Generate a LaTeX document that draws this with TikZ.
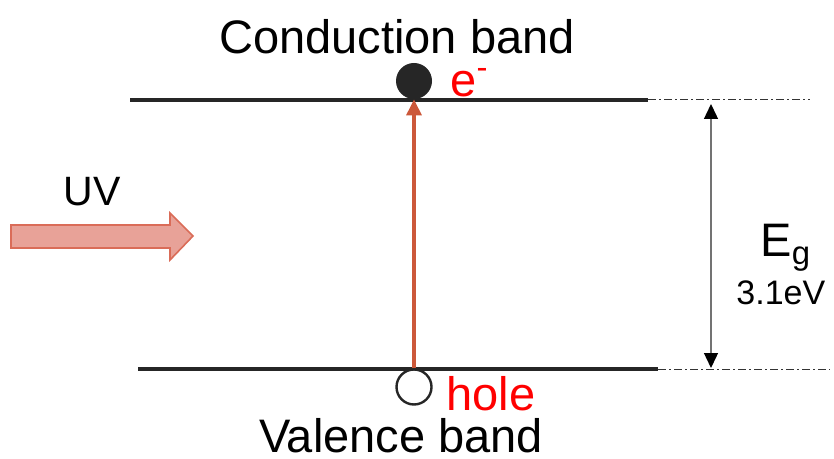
\documentclass[tikz,border=0pt]{standalone}
\usepackage{fontspec}
\setmainfont{Liberation Sans}
\usetikzlibrary{arrows.meta}
\definecolor{exred}{RGB}{204,88,58}
\definecolor{uvfill}{RGB}{232,162,152}
\definecolor{uvdraw}{RGB}{218,108,88}

\begin{document}
\begin{tikzpicture}[x=0.5pt,y=-0.5pt]
    \useasboundingbox (0,0) rectangle (834,459);
    \tikzset{
        band/.style={line width=1.7pt, black!85},
        guide/.style={line width=0.5pt, black!80, dash pattern=on 4pt off 1.5pt on 1pt off 1.5pt},
        bigtext/.style={font=\fontsize{23.5}{28}\selectfont},
        redtext/.style={bigtext, text=red, inner sep=0pt}
    }

    % Extremos de las bandas
    \coordinate (cbL) at (130,100);
    \coordinate (cbR) at (648,100);
    \coordinate (cbE) at (810,100);
    \coordinate (vbL) at (138,369);
    \coordinate (vbR) at (658,369);
    \coordinate (vbE) at (830,369);

    % Banda de conduccion y banda de valencia
    \draw[band] (cbL) -- (cbR);
    \draw[guide] (cbR) -- (cbE);
    \draw[band] (vbL) -- (vbR);
    \draw[guide] (vbR) -- (vbE);

    % Etiquetas de las bandas
    \node[bigtext] (cbText) at (397,37) {Conduction band};
    \node[bigtext, inner sep=1pt] (vbText) at (401,436) {Valence band};

    % Electron y hueco
    \node[circle, fill=black!85, minimum size=18pt, inner sep=0pt] (el) at (414,81) {};
    \node[circle, draw=black!85, line width=1.2pt, fill=white, minimum size=17.5pt, inner sep=0pt] (ho) at (414,387) {};
    \node[redtext, anchor=base west] (elText) at (450,97) {e\textsuperscript{-}};
    \node[redtext, anchor=base west] (hoText) at (446,410) {hole};

    % Transicion (flecha roja)
    \draw[-{Triangle[length=8pt, width=7.5pt]}, line width=1.6pt, exred] (ho.north) -- (el.south);

    % Flecha UV
    \node[font=\fontsize{20.5}{24}\selectfont] (uvText) at (92,192) {UV};
    \draw[fill=uvfill, draw=uvdraw, line width=0.8pt]
        (11,225) -- (170,225) -- (170,213) -- (193,236) -- (170,260) -- (170,248) -- (11,248) -- cycle;

    % Ancho de banda prohibida
    \coordinate (egT) at (711,104);
    \coordinate (egB) at (711,368);
    \draw[{Triangle[length=7.5pt, width=7pt, black]}-{Triangle[length=7.5pt, width=7pt, black]}, line width=0.7pt, black!55] (egT) -- (egB);
    \node[bigtext, anchor=base west, inner sep=0pt] (egText) at (760,257) {E\textsubscript{g}};
    \node[font=\fontsize{17}{20}\selectfont, anchor=base west, inner sep=0pt] (egVal) at (736,305) {3.1eV};
\end{tikzpicture}
\end{document}
